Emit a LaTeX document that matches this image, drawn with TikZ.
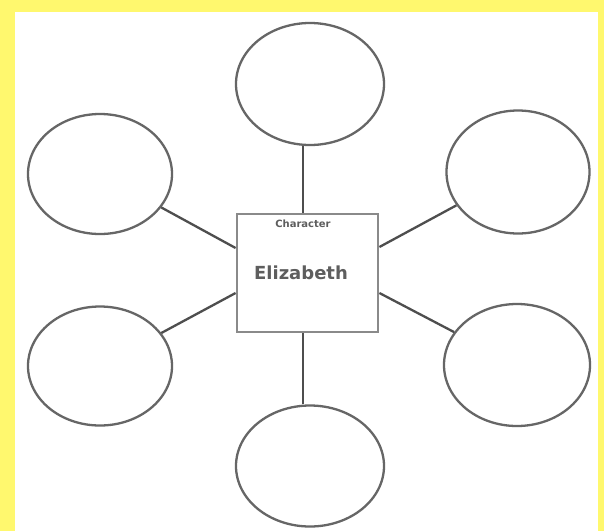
\documentclass[tikz,border=0pt]{standalone}
\usepackage{fontspec}
\setmainfont{DejaVu Sans}
\usetikzlibrary{shapes.geometric}
\definecolor{bgyellow}{HTML}{FFF86E}
\definecolor{linegray}{HTML}{4E4E4E}
\definecolor{ringgray}{HTML}{666666}
\definecolor{boxgray}{HTML}{8A8A8A}
\definecolor{textgray}{HTML}{5E5E5E}
\tikzset{
  bubble/.style={ellipse, draw=ringgray, line width=2.3pt, fill=white, inner sep=0pt},
  centerbox/.style={rectangle, draw=boxgray, line width=2.8pt, fill=white, inner sep=0pt, minimum width=141pt, minimum height=118pt},
  spoke/.style={draw=linegray, line width=2.3pt},
}
\begin{document}
\begin{tikzpicture}[x=1pt,y=-1pt]
\useasboundingbox (0,0) rectangle (604,531);
\fill[bgyellow] (0,0) rectangle (604,531);
\fill[white] (15,12) rectangle (598,531);

\node[bubble, minimum width=148pt, minimum height=122pt] (top) at (310,84) {};
\node[bubble, minimum width=144pt, minimum height=120pt] (tl) at (100,174) {};
\node[bubble, minimum width=143pt, minimum height=123pt] (tr) at (518,172) {};
\node[bubble, minimum width=144pt, minimum height=119pt] (bl) at (100,366) {};
\node[bubble, minimum width=146pt, minimum height=122pt] (br) at (517,365) {};
\node[bubble, minimum width=148pt, minimum height=121pt] (bot) at (310,466) {};

\node[centerbox] (sq) at (307.5,273) {};
\node[font=\fontsize{10}{11}\selectfont\bfseries, text=textgray, inner sep=0pt] (charlabel) at (303,224) {Character};
\node[font=\fontsize{18}{20}\selectfont\bfseries, text=textgray, inner sep=0pt] (name) at (301,273) {Elizabeth};

\draw[spoke] ([xshift=-7pt]top.south) -- ([xshift=-4.5pt]sq.north);
\draw[spoke] ([xshift=-7pt]bot.north) -- ([xshift=-4.5pt]sq.south);
\draw[spoke] (tl) -- ([yshift=25pt]sq.west);
\draw[spoke] (bl) -- ([yshift=-20pt]sq.west);
\draw[spoke] (tr) -- ([yshift=26pt]sq.east);
\draw[spoke] (br) -- ([yshift=-20pt]sq.east);
\end{tikzpicture}
\end{document}
